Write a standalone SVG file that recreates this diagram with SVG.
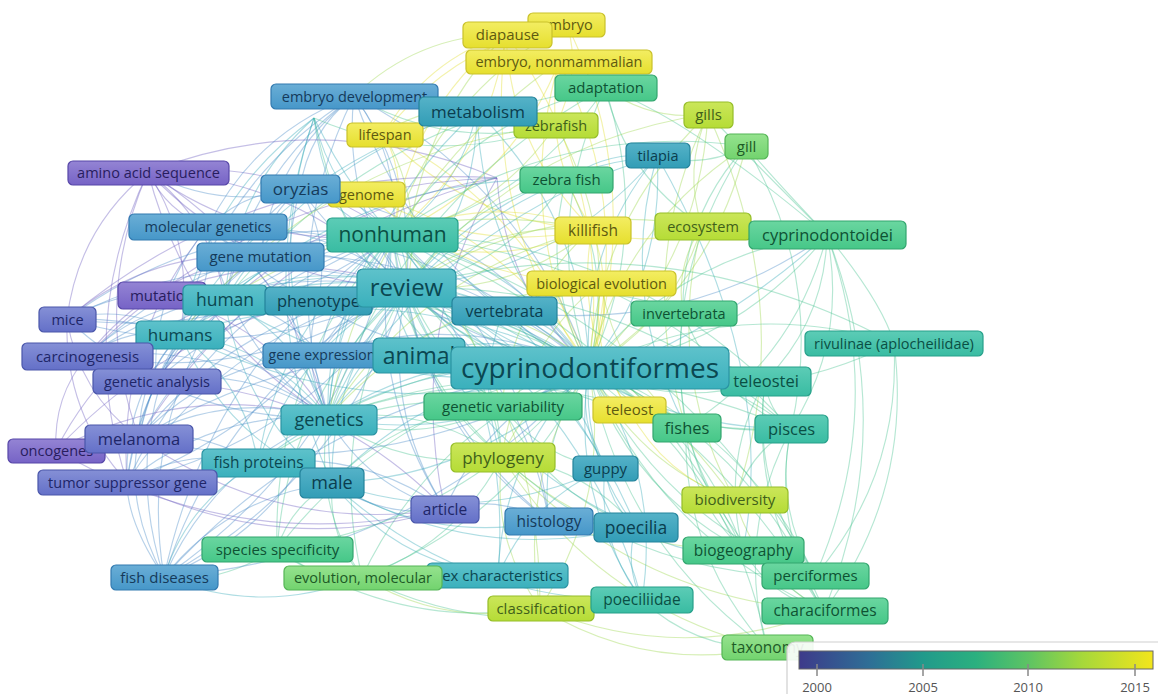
<svg xmlns="http://www.w3.org/2000/svg" width="1158" height="694" viewBox="0 0 1158 694">
<defs>
<linearGradient id="gY" x1="0" y1="0" x2="0" y2="1"><stop offset="0" stop-color="#f3ed62"/><stop offset="1" stop-color="#e6df2e"/></linearGradient>
<linearGradient id="gYG" x1="0" y1="0" x2="0" y2="1"><stop offset="0" stop-color="#cbe65a"/><stop offset="1" stop-color="#b5dc36"/></linearGradient>
<linearGradient id="gLG" x1="0" y1="0" x2="0" y2="1"><stop offset="0" stop-color="#95e28e"/><stop offset="1" stop-color="#72d36e"/></linearGradient>
<linearGradient id="gG" x1="0" y1="0" x2="0" y2="1"><stop offset="0" stop-color="#6ad6a0"/><stop offset="1" stop-color="#46c788"/></linearGradient>
<linearGradient id="gTG" x1="0" y1="0" x2="0" y2="1"><stop offset="0" stop-color="#5cccb6"/><stop offset="1" stop-color="#39bca2"/></linearGradient>
<linearGradient id="gT" x1="0" y1="0" x2="0" y2="1"><stop offset="0" stop-color="#5ec2cb"/><stop offset="1" stop-color="#3ab0bc"/></linearGradient>
<linearGradient id="gTB" x1="0" y1="0" x2="0" y2="1"><stop offset="0" stop-color="#55b2c8"/><stop offset="1" stop-color="#329db6"/></linearGradient>
<linearGradient id="gB" x1="0" y1="0" x2="0" y2="1"><stop offset="0" stop-color="#6aaed6"/><stop offset="1" stop-color="#4697c9"/></linearGradient>
<linearGradient id="gBP" x1="0" y1="0" x2="0" y2="1"><stop offset="0" stop-color="#8590d6"/><stop offset="1" stop-color="#6470c8"/></linearGradient>
<linearGradient id="gP" x1="0" y1="0" x2="0" y2="1"><stop offset="0" stop-color="#9484d4"/><stop offset="1" stop-color="#7663c6"/></linearGradient>
<linearGradient id="vir" x1="0" y1="0" x2="1" y2="0">
<stop offset="0" stop-color="#3d3a8a"/><stop offset="0.2" stop-color="#2e6f96"/><stop offset="0.35" stop-color="#219a8b"/><stop offset="0.5" stop-color="#2bb07f"/><stop offset="0.65" stop-color="#5ec463"/><stop offset="0.8" stop-color="#a6d83a"/><stop offset="1" stop-color="#f2e51c"/>
</linearGradient>
<style>
#connectors path{fill:none;stroke-width:1.15;stroke-opacity:0.4}
.c1{stroke:#6e5fc0}.c2{stroke:#4c8cc8}.c3{stroke:#38aab8}.c4{stroke:#48c490}.c5{stroke:#9bd84a}.c6{stroke:#e2de30}
.nd rect{stroke-width:1.2}
.nd text{font-family:"Open Sans","Liberation Sans",sans-serif;text-anchor:middle}
.Y rect{fill:url(#gY);stroke:#c9c12a}.Y text{fill:#5e5a10}
.YG rect{fill:url(#gYG);stroke:#95bd28}.YG text{fill:#40601a}
.LG rect{fill:url(#gLG);stroke:#55b556}.LG text{fill:#1d5a26}
.G rect{fill:url(#gG);stroke:#32a56e}.G text{fill:#0e5233}
.TG rect{fill:url(#gTG);stroke:#27a08a}.TG text{fill:#0a4f44}
.T rect{fill:url(#gT);stroke:#2a93a2}.T text{fill:#0b4751}
.TB rect{fill:url(#gTB);stroke:#24839b}.TB text{fill:#0b3d4e}
.B rect{fill:url(#gB);stroke:#327ab0}.B text{fill:#153a5a}
.BP rect{fill:url(#gBP);stroke:#4a56aa}.BP text{fill:#202668}
.P rect{fill:url(#gP);stroke:#5747a8}.P text{fill:#281d5e}
.lg text{font-family:"Open Sans","Liberation Sans",sans-serif;font-size:13px;fill:#555;text-anchor:middle}
</style>
</defs>
<rect width="1158" height="694" fill="#ffffff"/>
<g id="connectors">
<path class="c3" d="M589 368Q513 291 406 288"/><path class="c3" d="M589 368Q518 262 393 235"/><path class="c3" d="M589 368Q506 327 418 355"/><path class="c3" d="M589 368Q448 341 328 418"/><path class="c3" d="M589 368Q421 261 225 300"/><path class="c3" d="M589 368Q391 269 180 334"/><path class="c3" d="M589 368Q437 374 332 483"/><path class="c3" d="M589 368Q467 280 318 301"/><path class="c4" d="M589 368Q674 410 765 381"/><path class="c4" d="M589 368Q678 439 791 429"/><path class="c4" d="M589 368Q626 417 686 427"/><path class="c4" d="M589 368Q630 490 743 550"/><path class="c4" d="M589 368Q660 517 815 576"/><path class="c4" d="M589 368Q658 536 824 611"/><path class="c4" d="M589 368Q622 544 767 648"/><path class="c5" d="M589 368Q636 463 735 500"/><path class="c4" d="M589 368Q735 349 827 235"/><path class="c4" d="M589 368Q746 416 894 343"/><path class="c4" d="M589 368Q647 359 683 313"/><path class="c5" d="M589 368Q674 320 702 226"/><path class="c6" d="M589 368Q618 299 592 229"/><path class="c6" d="M589 368Q612 327 601 282"/><path class="c4" d="M589 368Q615 269 566 180"/><path class="c3" d="M589 368Q665 276 657 156"/><path class="c4" d="M589 368Q653 231 605 88"/><path class="c5" d="M589 368Q699 265 708 114"/><path class="c5" d="M589 368Q712 288 746 146"/><path class="c5" d="M589 368Q621 240 556 125"/><path class="c6" d="M589 368Q635 209 559 62"/><path class="c6" d="M589 368Q614 184 506 34"/><path class="c3" d="M589 368Q584 217 477 111"/><path class="c3" d="M589 368Q558 322 504 310"/><path class="c4" d="M589 368Q538 370 502 406"/><path class="c5" d="M589 368Q601 397 629 410"/><path class="c5" d="M589 368Q528 395 502 457"/><path class="c3" d="M589 368Q577 421 605 468"/><path class="c3" d="M589 368Q581 457 636 527"/><path class="c3" d="M589 368Q538 437 549 521"/><path class="c3" d="M589 368Q569 495 642 600"/><path class="c5" d="M589 368Q517 478 540 608"/><path class="c3" d="M589 368Q502 454 498 576"/><path class="c4" d="M589 368Q434 427 362 577"/><path class="c4" d="M589 368Q397 396 277 549"/><path class="c2" d="M589 368Q489 410 445 509"/><path class="c3" d="M589 368Q405 349 258 463"/><path class="c2" d="M589 368Q457 308 320 355"/><path class="c2" d="M589 368Q480 221 300 189"/><path class="c6" d="M589 368Q533 210 384 134"/><path class="c2" d="M589 368Q526 185 354 96"/><path class="c2" d="M589 368Q427 221 208 227"/><path class="c2" d="M589 368Q447 246 260 256"/><path class="c2" d="M589 368Q350 313 139 438"/><path class="c2" d="M589 368Q335 388 164 577"/><path class="c6" d="M589 368Q513 236 366 193"/><path class="c6" d="M589 368Q647 192 567 24"/>
<path class="c3" d="M406 288Q410 259 393 235"/><path class="c3" d="M406 288Q313 258 225 300"/><path class="c3" d="M406 288Q284 266 180 334"/><path class="c3" d="M406 288Q341 337 328 418"/><path class="c3" d="M406 288Q330 371 332 483"/><path class="c2" d="M406 288Q230 236 67 319"/><path class="c2" d="M406 288Q233 258 87 356"/><path class="c2" d="M406 288Q243 310 139 438"/><path class="c2" d="M406 288Q228 329 127 482"/><path class="c2" d="M406 288Q262 285 156 381"/><path class="c1" d="M406 288Q300 178 148 172"/><path class="c2" d="M406 288Q319 218 208 227"/><path class="c2" d="M406 288Q373 217 300 189"/><path class="c2" d="M406 288Q418 182 354 96"/><path class="c3" d="M406 288Q477 214 477 111"/><path class="c5" d="M406 288Q426 207 384 134"/><path class="c4" d="M406 288Q508 266 566 180"/><path class="c5" d="M406 288Q511 296 592 229"/><path class="c5" d="M406 288Q505 324 601 282"/><path class="c4" d="M406 288Q430 366 502 406"/><path class="c4" d="M406 288Q420 392 502 457"/><path class="c2" d="M406 288Q381 406 445 509"/><path class="c2" d="M406 288Q431 433 549 521"/><path class="c3" d="M406 288Q297 346 258 463"/><path class="c4" d="M406 288Q289 393 277 549"/><path class="c2" d="M406 288Q227 384 164 577"/><path class="c2" d="M406 288Q350 304 320 355"/><path class="c2" d="M406 288Q339 243 260 256"/><path class="c1" d="M406 288Q199 299 56 450"/><path class="c1" d="M406 288Q282 243 161 295"/><path class="c3" d="M406 288Q558 272 657 156"/><path class="c4" d="M406 288Q570 436 791 429"/><path class="c4" d="M406 288Q567 406 765 381"/><path class="c3" d="M406 288Q451 319 504 310"/><path class="c4" d="M406 288Q326 424 362 577"/><path class="c3" d="M406 288Q473 454 636 527"/>
<path class="c3" d="M393 235Q296 234 225 300"/><path class="c3" d="M393 235Q267 242 180 334"/><path class="c3" d="M393 235Q324 314 328 418"/><path class="c3" d="M393 235Q313 347 332 483"/><path class="c3" d="M393 235Q382 300 418 355"/><path class="c2" d="M393 235Q213 212 67 319"/><path class="c2" d="M393 235Q216 234 87 356"/><path class="c2" d="M393 235Q245 261 156 381"/><path class="c2" d="M393 235Q225 286 139 438"/><path class="c2" d="M393 235Q211 305 127 482"/><path class="c1" d="M393 235Q283 155 148 172"/><path class="c2" d="M393 235Q401 158 354 96"/><path class="c3" d="M393 235Q460 190 477 111"/><path class="c5" d="M393 235Q497 213 556 125"/><path class="c6" d="M393 235Q490 157 506 34"/><path class="c6" d="M393 235Q511 182 559 62"/><path class="c6" d="M393 235Q494 272 592 229"/><path class="c4" d="M393 235Q403 368 502 457"/><path class="c4" d="M393 235Q413 342 502 406"/><path class="c3" d="M393 235Q280 322 258 463"/><path class="c2" d="M393 235Q210 360 164 577"/><path class="c4" d="M393 235Q272 369 277 549"/><path class="c2" d="M393 235Q414 409 549 521"/><path class="c2" d="M393 235Q364 382 445 509"/><path class="c2" d="M393 235Q333 280 320 355"/><path class="c4" d="M393 235Q528 204 605 88"/><path class="c6" d="M393 235Q409 183 384 134"/><path class="c2" d="M393 235Q356 193 300 189"/>
<path class="c3" d="M328 418Q300 338 225 300"/><path class="c3" d="M328 418Q271 346 180 334"/><path class="c2" d="M328 418Q217 316 67 319"/><path class="c2" d="M328 418Q220 339 87 356"/><path class="c2" d="M328 418Q230 390 139 438"/><path class="c1" d="M328 418Q186 380 56 450"/><path class="c2" d="M328 418Q215 410 127 482"/><path class="c2" d="M328 418Q249 365 156 381"/><path class="c2" d="M328 418Q214 465 164 577"/><path class="c2" d="M328 418Q306 299 208 227"/><path class="c1" d="M328 418Q287 259 148 172"/><path class="c1" d="M328 418Q269 323 161 295"/><path class="c2" d="M328 418Q368 487 445 509"/><path class="c4" d="M328 418Q407 472 502 457"/><path class="c4" d="M328 418Q417 447 502 406"/><path class="c4" d="M328 418Q313 504 362 577"/>
<path class="c2" d="M225 300Q142 278 67 319"/><path class="c2" d="M225 300Q145 300 87 356"/><path class="c2" d="M225 300Q154 352 139 438"/><path class="c2" d="M225 300Q140 371 127 482"/><path class="c1" d="M225 300Q111 341 56 450"/><path class="c2" d="M180 334Q127 304 67 319"/><path class="c2" d="M180 334Q129 326 87 356"/><path class="c2" d="M180 334Q139 378 139 438"/><path class="c2" d="M180 334Q124 397 127 482"/><path class="c1" d="M180 334Q196 247 148 172"/><path class="c2" d="M180 334Q215 286 208 227"/><path class="c1" d="M225 300Q212 221 148 172"/><path class="c2" d="M180 334Q123 452 164 577"/><path class="c2" d="M225 300Q139 426 164 577"/><path class="c3" d="M180 334Q226 439 332 483"/><path class="c3" d="M225 300Q242 413 332 483"/>
<path class="c1" d="M148 172Q76 323 127 482"/><path class="c1" d="M148 172Q90 303 139 438"/><path class="c1" d="M148 172Q78 229 67 319"/><path class="c1" d="M67 319Q64 413 127 482"/><path class="c1" d="M87 356Q53 397 56 450"/><path class="c1" d="M67 319Q79 393 139 438"/><path class="c1" d="M208 227Q117 338 127 482"/><path class="c2" d="M208 227Q151 294 156 381"/><path class="c1" d="M148 172Q167 212 208 227"/><path class="c2" d="M148 172Q221 211 300 189"/>
<path class="c4" d="M332 483Q291 505 277 549"/><path class="c2" d="M332 483Q229 496 164 577"/><path class="c4" d="M332 483Q328 536 362 577"/><path class="c3" d="M332 483Q475 566 636 527"/><path class="c3" d="M332 483Q472 530 605 468"/><path class="c3" d="M332 483Q433 545 549 521"/><path class="c3" d="M332 483Q396 563 498 576"/><path class="c3" d="M332 483Q464 604 642 600"/><path class="c2" d="M332 483Q383 519 445 509"/>
<path class="c4" d="M277 549Q314 580 362 577"/><path class="c4" d="M277 549Q397 631 540 608"/><path class="c5" d="M362 577Q445 628 540 608"/><path class="c4" d="M362 577Q497 645 642 600"/><path class="c4" d="M362 577Q456 545 502 457"/><path class="c5" d="M540 608Q681 666 824 611"/><path class="c5" d="M540 608Q646 673 767 648"/><path class="c4" d="M642 600Q695 649 767 648"/><path class="c5" d="M502 457Q604 552 743 550"/><path class="c5" d="M502 457Q632 598 824 611"/><path class="c4" d="M502 457Q635 579 815 576"/><path class="c5" d="M502 457Q596 606 767 648"/><path class="c5" d="M502 457Q491 540 540 608"/><path class="c4" d="M743 550Q771 597 824 611"/><path class="c4" d="M743 550Q774 577 815 576"/><path class="c5" d="M735 500Q757 573 824 611"/><path class="c4" d="M791 429Q771 527 824 611"/><path class="c4" d="M791 429Q774 507 815 576"/><path class="c4" d="M791 429Q735 534 767 648"/><path class="c4" d="M765 381Q749 508 824 611"/><path class="c4" d="M765 381Q751 489 815 576"/><path class="c4" d="M894 343Q901 475 815 576"/><path class="c4" d="M894 343Q913 491 824 611"/><path class="c4" d="M827 235Q901 424 824 611"/><path class="c4" d="M827 235Q889 408 815 576"/><path class="c4" d="M827 235Q848 339 791 429"/><path class="c4" d="M827 235Q825 320 765 381"/><path class="c4" d="M827 235Q882 302 894 343"/><path class="c4" d="M827 235Q795 359 686 427"/><path class="c2" d="M827 235Q681 337 504 310"/><path class="c3" d="M827 235Q614 426 328 418"/><path class="c4" d="M827 235Q769 174 746 146"/><path class="c4" d="M827 235Q743 151 708 114"/><path class="c4" d="M827 235Q687 117 605 88"/>
<path class="c5" d="M708 114Q683 169 702 226"/><path class="c4" d="M746 146Q681 217 683 313"/><path class="c4" d="M746 146Q660 275 686 427"/><path class="c5" d="M708 114Q634 266 686 427"/><path class="c5" d="M708 114Q799 312 735 500"/><path class="c4" d="M746 146Q825 279 791 429"/><path class="c4" d="M605 88Q626 176 702 226"/><path class="c5" d="M605 88Q651 122 708 114"/><path class="c6" d="M567 24Q582 72 556 125"/><path class="c6" d="M559 62Q542 152 592 229"/><path class="c6" d="M506 34Q510 149 592 229"/><path class="c6" d="M506 34Q425 60 384 134"/><path class="c6" d="M567 24Q454 42 384 134"/><path class="c5" d="M354 96Q418 35 506 34"/><path class="c4" d="M354 96Q449 151 556 125"/><path class="c2" d="M354 96Q255 132 208 227"/><path class="c2" d="M354 96Q275 157 260 256"/><path class="c2" d="M354 96Q308 132 300 189"/><path class="c2" d="M354 96Q219 180 180 334"/><path class="c2" d="M354 96Q249 172 225 300"/><path class="c2" d="M354 96Q277 252 328 418"/>
<path class="c4" d="M657 156Q704 169 746 146"/><path class="c3" d="M657 156Q607 150 566 180"/><path class="c3" d="M657 156Q617 297 686 427"/><path class="c3" d="M657 156Q779 370 743 550"/><path class="c3" d="M566 180Q399 251 328 418"/><path class="c3" d="M566 180Q372 172 225 300"/><path class="c5" d="M477 111Q426 104 384 134"/><path class="c3" d="M477 111Q313 155 225 300"/><path class="c3" d="M477 111Q341 235 328 418"/><path class="c3" d="M477 111Q284 163 180 334"/><path class="c6" d="M384 134Q469 223 592 229"/><path class="c6" d="M366 193Q472 256 592 229"/><path class="c6" d="M366 193Q466 285 601 282"/><path class="c5" d="M601 282Q517 350 502 457"/><path class="c5" d="M601 282Q615 372 686 427"/><path class="c6" d="M601 282Q589 352 629 410"/><path class="c6" d="M592 229Q574 327 629 410"/><path class="c5" d="M592 229Q512 300 502 406"/><path class="c6" d="M592 229Q648 250 702 226"/><path class="c5" d="M702 226Q664 370 735 500"/><path class="c5" d="M702 226Q675 266 683 313"/><path class="c4" d="M683 313Q593 276 504 310"/><path class="c4" d="M683 313Q714 393 791 429"/><path class="c4" d="M683 313Q666 444 743 550"/><path class="c3" d="M504 310Q363 249 225 300"/><path class="c3" d="M504 310Q624 427 791 429"/><path class="c3" d="M504 310Q474 383 502 457"/><path class="c3" d="M504 310Q394 329 328 418"/><path class="c4" d="M502 406Q369 386 258 463"/><path class="c4" d="M502 406Q402 411 332 483"/><path class="c4" d="M502 406Q545 493 636 527"/><path class="c4" d="M502 406Q541 458 605 468"/><path class="c6" d="M629 410Q664 476 735 500"/><path class="c4" d="M686 427Q690 500 743 550"/><path class="c4" d="M686 427Q718 547 824 611"/><path class="c4" d="M686 427Q682 554 767 648"/><path class="c4" d="M765 381Q768 410 791 429"/><path class="c4" d="M765 381Q720 461 743 550"/><path class="c4" d="M791 429Q749 453 735 500"/><path class="c3" d="M605 468Q609 504 636 527"/><path class="c3" d="M605 468Q597 541 642 600"/><path class="c3" d="M605 468Q530 501 498 576"/><path class="c3" d="M636 527Q624 565 642 600"/><path class="c3" d="M636 527Q685 560 743 550"/><path class="c4" d="M636 527Q583 465 502 457"/><path class="c2" d="M549 521Q495 494 445 509"/><path class="c2" d="M445 509Q361 449 258 463"/><path class="c1" d="M445 509Q326 387 156 381"/><path class="c1" d="M445 509Q281 559 127 482"/><path class="c1" d="M445 509Q278 535 139 438"/><path class="c1" d="M445 509Q239 557 56 450"/><path class="c4" d="M164 577Q215 586 277 549"/><path class="c3" d="M164 577Q263 617 362 577"/><path class="c3" d="M164 577Q188 501 258 463"/><path class="c2" d="M164 577Q124 503 139 438"/><path class="c2" d="M164 577Q127 522 127 482"/><path class="c2" d="M258 463Q194 427 139 438"/><path class="c2" d="M258 463Q189 446 127 482"/><path class="c3" d="M258 463Q245 383 180 334"/><path class="c2" d="M320 355Q284 309 225 300"/><path class="c2" d="M320 355Q213 360 139 438"/><path class="c1" d="M260 256Q151 249 67 319"/><path class="c1" d="M260 256Q154 271 87 356"/><path class="c2" d="M260 256Q163 323 139 438"/><path class="c2" d="M260 256Q148 342 127 482"/><path class="c2" d="M318 301Q300 362 328 418"/><path class="c2" d="M318 301Q331 241 300 189"/><path class="c2" d="M300 189Q240 230 225 300"/><path class="c2" d="M300 189Q268 309 328 418"/><path class="c2" d="M300 189Q246 190 208 227"/><path class="c2" d="M300 189Q267 215 260 256"/>
<path class="c3" d="M314 118Q204 199 180 334"/><path class="c3" d="M314 118Q233 191 225 300"/><path class="c3" d="M314 118Q261 271 328 418"/><path class="c3" d="M314 118Q326 221 406 288"/><path class="c3" d="M314 118Q402 298 589 368"/><path class="c3" d="M314 118Q250 304 332 483"/><path class="c3" d="M314 118Q330 192 393 235"/><path class="c4" d="M314 118Q350 300 502 406"/><path class="c4" d="M314 118Q434 170 556 125"/>
<path class="c1" d="M497 178Q254 163 67 319"/><path class="c1" d="M497 178Q256 185 87 356"/><path class="c1" d="M497 178Q321 105 148 172"/><path class="c1" d="M497 178Q266 236 139 438"/><path class="c1" d="M497 178Q405 333 445 509"/><path class="c1" d="M497 178Q505 291 589 368"/><path class="c1" d="M497 178Q286 211 156 381"/>
<path class="c3" d="M589 368Q482 365 406 288"/><path class="c3" d="M589 368Q464 341 393 235"/><path class="c3" d="M589 368Q469 445 328 418"/><path class="c3" d="M589 368Q393 407 225 300"/><path class="c3" d="M589 368Q378 433 180 334"/><path class="c3" d="M589 368Q484 477 332 483"/><path class="c4" d="M589 368Q541 225 605 88"/><path class="c5" d="M589 368Q598 217 708 114"/><path class="c6" d="M589 368Q513 221 559 62"/><path class="c6" d="M589 368Q481 218 506 34"/><path class="c3" d="M589 368Q482 262 477 111"/><path class="c4" d="M589 368Q680 339 765 381"/><path class="c4" d="M589 368Q702 358 791 429"/><path class="c4" d="M589 368Q702 428 743 550"/><path class="c4" d="M589 368Q755 443 824 611"/><path class="c4" d="M589 368Q744 427 815 576"/><path class="c4" d="M589 368Q734 472 767 648"/><path class="c4" d="M589 368Q681 254 827 235"/><path class="c4" d="M589 368Q737 295 894 343"/><path class="c3" d="M589 368Q581 248 657 156"/><path class="c5" d="M589 368Q623 226 746 146"/><path class="c2" d="M589 368Q378 493 139 438"/><path class="c2" d="M589 368Q418 557 164 577"/><path class="c4" d="M589 368Q469 521 277 549"/><path class="c4" d="M589 368Q517 518 362 577"/><path class="c2" d="M589 368Q417 279 354 96"/><path class="c2" d="M589 368Q370 374 208 227"/><path class="c2" d="M589 368Q409 336 300 189"/><path class="c4" d="M589 368Q540 279 566 180"/><path class="c3" d="M589 368Q662 473 642 600"/><path class="c5" d="M589 368Q612 498 540 608"/>
<path class="c2" d="M406 288Q243 371 67 319"/><path class="c2" d="M406 288Q260 386 87 356"/><path class="c1" d="M406 288Q254 282 148 172"/><path class="c2" d="M406 288Q342 202 354 96"/><path class="c4" d="M406 288Q464 202 566 180"/><path class="c5" d="M406 288Q487 221 592 229"/><path class="c4" d="M406 288Q488 353 502 457"/><path class="c2" d="M406 288Q524 376 549 521"/><path class="c2" d="M406 288Q343 481 164 577"/><path class="c3" d="M406 288Q505 172 657 156"/><path class="c4" d="M406 288Q627 281 791 429"/><path class="c3" d="M406 288Q569 361 636 527"/><path class="c2" d="M406 288Q305 441 127 482"/>
<path class="c2" d="M393 235Q247 342 67 319"/><path class="c2" d="M393 235Q309 412 127 482"/><path class="c1" d="M393 235Q258 252 148 172"/><path class="c6" d="M393 235Q409 112 506 34"/><path class="c4" d="M393 235Q470 119 605 88"/><path class="c6" d="M393 235Q491 192 592 229"/><path class="c2" d="M393 235Q347 452 164 577"/><path class="c2" d="M393 235Q528 347 549 521"/><path class="c4" d="M393 235Q492 324 502 457"/>
<path class="c2" d="M328 418Q178 421 67 319"/><path class="c1" d="M328 418Q189 331 148 172"/><path class="c2" d="M328 418Q230 346 208 227"/><path class="c4" d="M328 418Q423 403 502 457"/><path class="c2" d="M328 418Q278 530 164 577"/>
<path class="c5" d="M506 34Q405 141 406 288"/><path class="c5" d="M567 24Q438 95 393 235"/><path class="c5" d="M559 62Q372 194 328 418"/><path class="c4" d="M605 88Q401 198 328 418"/><path class="c4" d="M605 88Q373 118 225 300"/><path class="c5" d="M556 125Q326 154 180 334"/><path class="c5" d="M592 229Q394 191 225 300"/><path class="c5" d="M592 229Q422 271 328 418"/><path class="c5" d="M601 282Q437 295 328 418"/><path class="c5" d="M702 226Q542 198 406 288"/><path class="c5" d="M708 114Q522 141 406 288"/><path class="c4" d="M746 146Q552 120 393 235"/><path class="c3" d="M657 156Q440 221 328 418"/><path class="c4" d="M791 429Q631 252 393 235"/><path class="c4" d="M765 381Q608 234 393 235"/><path class="c4" d="M894 343Q661 218 406 288"/><path class="c5" d="M735 500Q613 328 406 288"/><path class="c4" d="M743 550Q631 323 393 235"/><path class="c4" d="M824 611Q680 366 406 288"/><path class="c4" d="M815 576Q672 321 393 235"/><path class="c4" d="M686 427Q509 351 328 418"/><path class="c4" d="M686 427Q481 271 225 300"/><path class="c4" d="M791 429Q562 331 328 418"/><path class="c4" d="M765 381Q539 312 328 418"/><path class="c3" d="M642 600Q586 397 406 288"/><path class="c5" d="M540 608Q541 392 393 235"/><path class="c3" d="M498 576Q514 385 393 235"/><path class="c3" d="M605 468Q542 338 406 288"/><path class="c3" d="M605 468Q546 309 393 235"/>
</g>
<g id="nodes">
<g id="n-embryo" class="nd Y"><rect x="528" y="13" width="77" height="24" rx="5"/><text x="566.5" y="30.1" font-size="14.5">embryo</text></g>
<g id="n-diapause" class="nd Y"><rect x="463" y="22" width="89" height="26" rx="5"/><text x="507.5" y="40.2" font-size="15">diapause</text></g>
<g id="n-embryo-nonmammalian" class="nd Y"><rect x="466" y="50" width="186" height="24" rx="5"/><text x="559" y="67.1" font-size="14.5">embryo, nonmammalian</text></g>
<g id="n-adaptation" class="nd G"><rect x="555" y="75" width="102" height="26" rx="5"/><text x="606" y="93.2" font-size="15">adaptation</text></g>
<g id="n-embryo-development" class="nd B"><rect x="271" y="84" width="167" height="25" rx="5"/><text x="354.5" y="101.6" font-size="14.5">embryo development</text></g>
<g id="n-lifespan" class="nd Y"><rect x="347" y="123" width="76" height="24" rx="5"/><text x="385" y="140.1" font-size="14.5">lifespan</text></g>
<g id="n-zebrafish" class="nd YG"><rect x="514" y="113" width="84" height="25" rx="5"/><text x="556" y="130.6" font-size="14.5">zebrafish</text></g>
<g id="n-metabolism" class="nd TB"><rect x="419" y="97" width="118" height="29" rx="5"/><text x="478" y="117.5" font-size="17">metabolism</text></g>
<g id="n-gills" class="nd YG"><rect x="684" y="102" width="49" height="26" rx="5"/><text x="708.5" y="120.2" font-size="15">gills</text></g>
<g id="n-gill" class="nd LG"><rect x="725" y="134" width="43" height="25" rx="5"/><text x="746.5" y="151.7" font-size="15">gill</text></g>
<g id="n-tilapia" class="nd TB"><rect x="626" y="143" width="64" height="25" rx="5"/><text x="658" y="160.6" font-size="14.5">tilapia</text></g>
<g id="n-amino-acid-sequence" class="nd P"><rect x="68" y="161" width="161" height="24" rx="5"/><text x="148.5" y="178.1" font-size="14.5">amino acid sequence</text></g>
<g id="n-genome" class="nd Y"><rect x="328" y="182" width="77" height="25" rx="5"/><text x="366.5" y="199.6" font-size="14.5">genome</text></g>
<g id="n-oryzias" class="nd B"><rect x="261" y="175" width="79" height="28" rx="5"/><text x="300.5" y="195" font-size="17">oryzias</text></g>
<g id="n-zebra-fish" class="nd G"><rect x="520" y="167" width="93" height="26" rx="5"/><text x="566.5" y="185.2" font-size="15">zebra fish</text></g>
<g id="n-molecular-genetics" class="nd B"><rect x="129" y="214" width="158" height="26" rx="5"/><text x="208" y="232.1" font-size="14.5">molecular genetics</text></g>
<g id="n-nonhuman" class="nd TG"><rect x="327" y="218" width="131" height="34" rx="5"/><text x="392.5" y="242.4" font-size="21">nonhuman</text></g>
<g id="n-killifish" class="nd Y"><rect x="555" y="217" width="76" height="27" rx="5"/><text x="593" y="235.9" font-size="15.5">killifish</text></g>
<g id="n-ecosystem" class="nd YG"><rect x="655" y="213" width="96" height="27" rx="5"/><text x="703" y="231.6" font-size="14.5">ecosystem</text></g>
<g id="n-cyprinodontoidei" class="nd G"><rect x="749" y="221" width="157" height="28" rx="5"/><text x="827.5" y="240.8" font-size="16.5">cyprinodontoidei</text></g>
<g id="n-gene-mutation" class="nd B"><rect x="197" y="243" width="127" height="28" rx="5"/><text x="260.5" y="262.2" font-size="15">gene mutation</text></g>
<g id="n-biological-evolution" class="nd Y"><rect x="527" y="271" width="149" height="25" rx="5"/><text x="601.5" y="288.6" font-size="14.5">biological evolution</text></g>
<g id="n-mutation" class="nd P"><rect x="118" y="282" width="88" height="27" rx="5"/><text x="162" y="300.7" font-size="15">mutation</text></g>
<g id="n-human" class="nd T"><rect x="183" y="285" width="84" height="30" rx="5"/><text x="225" y="306.1" font-size="17.5">human</text></g>
<g id="n-phenotype" class="nd TB"><rect x="265" y="287" width="107" height="28" rx="5"/><text x="318.5" y="306.8" font-size="16.5">phenotype</text></g>
<g id="n-review" class="nd T"><rect x="357" y="269" width="99" height="38" rx="6"/><text x="406.5" y="296.4" font-size="24">review</text></g>
<g id="n-vertebrata" class="nd TB"><rect x="452" y="297" width="105" height="28" rx="5"/><text x="504.5" y="316.6" font-size="16">vertebrata</text></g>
<g id="n-invertebrata" class="nd G"><rect x="631" y="301" width="106" height="25" rx="5"/><text x="684" y="318.6" font-size="14.5">invertebrata</text></g>
<g id="n-mice" class="nd BP"><rect x="39" y="307" width="57" height="25" rx="5"/><text x="67.5" y="324.6" font-size="14.5">mice</text></g>
<g id="n-humans" class="nd T"><rect x="136" y="321" width="88" height="28" rx="5"/><text x="180" y="340.9" font-size="17">humans</text></g>
<g id="n-carcinogenesis" class="nd BP"><rect x="22" y="343" width="131" height="27" rx="5"/><text x="87.5" y="361.7" font-size="15">carcinogenesis</text></g>
<g id="n-genetic-analysis" class="nd BP"><rect x="93" y="369" width="128" height="25" rx="5"/><text x="157" y="386.6" font-size="14.5">genetic analysis</text></g>
<g id="n-rivulinae" class="nd TG"><rect x="805" y="331" width="178" height="25" rx="5"/><text x="894" y="348.6" font-size="14.5">rivulinae (aplocheilidae)</text></g>
<g id="n-gene-expression" class="nd B"><rect x="263" y="343" width="118" height="25" rx="5"/><text x="322" y="360.4" font-size="14">gene expression</text></g>
<g id="n-animal" class="nd T"><rect x="373" y="338" width="92" height="35" rx="6"/><text x="419" y="363.5" font-size="23">animal</text></g>
<g id="n-teleostei" class="nd TG"><rect x="721" y="367" width="90" height="29" rx="5"/><text x="766" y="387.3" font-size="16.5">teleostei</text></g>
<g id="n-cyprinodontiformes" class="nd T"><rect x="451" y="347" width="278" height="42" rx="6"/><text x="590" y="377.8" font-size="28">cyprinodontiformes</text></g>
<g id="n-genetics" class="nd T"><rect x="281" y="405" width="96" height="30" rx="5"/><text x="329" y="426.3" font-size="18">genetics</text></g>
<g id="n-genetic-variability" class="nd G"><rect x="424" y="393" width="158" height="27" rx="5"/><text x="503" y="411.7" font-size="15">genetic variability</text></g>
<g id="n-teleost" class="nd Y"><rect x="593" y="397" width="73" height="26" rx="5"/><text x="629.5" y="415.2" font-size="15">teleost</text></g>
<g id="n-fishes" class="nd G"><rect x="653" y="414" width="68" height="28" rx="5"/><text x="687" y="433.8" font-size="16.5">fishes</text></g>
<g id="n-pisces" class="nd TG"><rect x="755" y="415" width="73" height="28" rx="5"/><text x="791.5" y="434.8" font-size="16.5">pisces</text></g>
<g id="n-oncogenes" class="nd P"><rect x="8" y="439" width="97" height="24" rx="5"/><text x="56.5" y="456.1" font-size="14.5">oncogenes</text></g>
<g id="n-melanoma" class="nd BP"><rect x="85" y="425" width="108" height="28" rx="5"/><text x="139" y="444.8" font-size="16.5">melanoma</text></g>
<g id="n-phylogeny" class="nd YG"><rect x="451" y="443" width="104" height="29" rx="5"/><text x="503" y="463.5" font-size="17">phylogeny</text></g>
<g id="n-fish-proteins" class="nd T"><rect x="202" y="449" width="113" height="28" rx="5"/><text x="258.5" y="468.4" font-size="15.5">fish proteins</text></g>
<g id="n-guppy" class="nd TB"><rect x="573" y="456" width="65" height="25" rx="5"/><text x="605.5" y="473.8" font-size="15">guppy</text></g>
<g id="n-male" class="nd TB"><rect x="300" y="468" width="64" height="30" rx="5"/><text x="332" y="489.3" font-size="18">male</text></g>
<g id="n-tumor-suppressor-gene" class="nd BP"><rect x="38" y="470" width="179" height="25" rx="5"/><text x="127.5" y="487.6" font-size="14.5">tumor suppressor gene</text></g>
<g id="n-article" class="nd BP"><rect x="411" y="496" width="68" height="27" rx="5"/><text x="445" y="514.9" font-size="15.5">article</text></g>
<g id="n-biodiversity" class="nd YG"><rect x="682" y="487" width="106" height="26" rx="5"/><text x="735" y="505.2" font-size="15">biodiversity</text></g>
<g id="n-histology" class="nd B"><rect x="505" y="508" width="88" height="27" rx="5"/><text x="549" y="526.9" font-size="15.5">histology</text></g>
<g id="n-poecilia" class="nd TB"><rect x="594" y="513" width="84" height="29" rx="5"/><text x="636" y="533.6" font-size="17.5">poecilia</text></g>
<g id="n-species-specificity" class="nd G"><rect x="202" y="537" width="151" height="25" rx="5"/><text x="277.5" y="554.8" font-size="15">species specificity</text></g>
<g id="n-biogeography" class="nd G"><rect x="683" y="537" width="121" height="27" rx="5"/><text x="743.5" y="555.9" font-size="15.5">biogeography</text></g>
<g id="n-fish-diseases" class="nd B"><rect x="111" y="565" width="107" height="25" rx="5"/><text x="164.5" y="582.8" font-size="15">fish diseases</text></g>
<g id="n-sex-characteristics" class="nd T"><rect x="427" y="563" width="141" height="25" rx="5"/><text x="499" y="580.8" font-size="15">sex characteristics</text></g>
<g id="n-evolution-molecular" class="nd LG"><rect x="284" y="566" width="158" height="24" rx="5"/><text x="363" y="583.1" font-size="14.5">evolution, molecular</text></g>
<g id="n-perciformes" class="nd G"><rect x="762" y="563" width="107" height="26" rx="5"/><text x="815.5" y="581.2" font-size="15">perciformes</text></g>
<g id="n-classification" class="nd YG"><rect x="488" y="596" width="106" height="25" rx="5"/><text x="541" y="613.8" font-size="15">classification</text></g>
<g id="n-poeciliidae" class="nd TG"><rect x="591" y="587" width="102" height="26" rx="5"/><text x="642" y="605.4" font-size="15.5">poeciliidae</text></g>
<g id="n-characiformes" class="nd G"><rect x="762" y="598" width="126" height="26" rx="5"/><text x="825" y="616.4" font-size="15.5">characiformes</text></g>
<g id="n-taxonomy" class="nd LG"><rect x="722" y="635" width="91" height="25" rx="5"/><text x="767.5" y="652.9" font-size="15.5">taxonomy</text></g>
</g>
<g id="legend" class="lg">
<rect x="787" y="642" width="380" height="62" rx="8" fill="#ffffff" fill-opacity="0.9" stroke="#cfcfcf" stroke-width="1.2"/>
<rect x="799" y="651" width="354" height="18" fill="url(#vir)" stroke="#666" stroke-width="1"/>
<g stroke="#888" stroke-width="1.5"><line x1="817" y1="664" x2="817" y2="676"/><line x1="923" y1="664" x2="923" y2="676"/><line x1="1028" y1="664" x2="1028" y2="676"/><line x1="1135" y1="664" x2="1135" y2="676"/></g>
<text x="817" y="692">2000</text><text x="923" y="692">2005</text><text x="1028" y="692">2010</text><text x="1135" y="692">2015</text>
</g>
</svg>
